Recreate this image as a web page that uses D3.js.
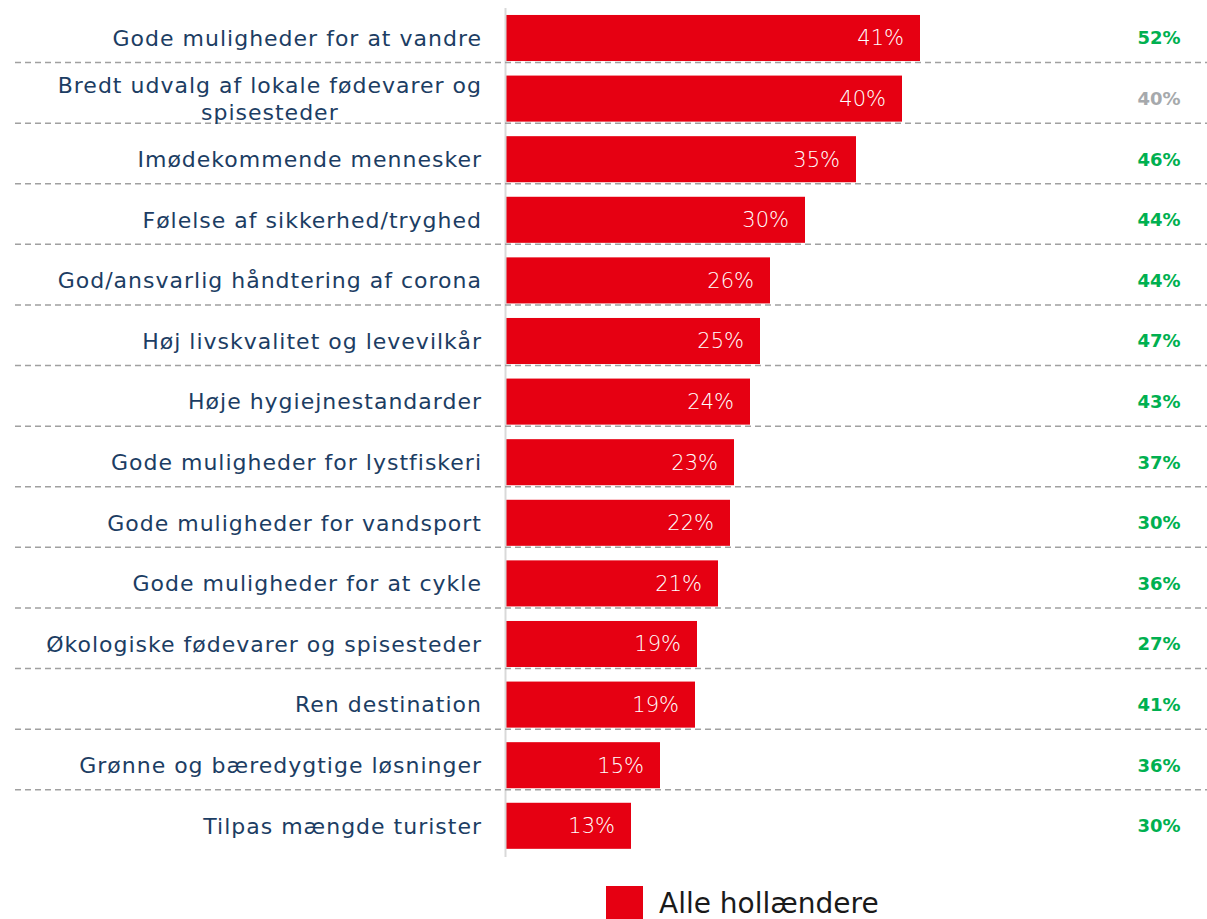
<!DOCTYPE html>
<html>
<head>
<meta charset="utf-8">
<script src="https://cdn.jsdelivr.net/npm/d3@7"></script>
<style>
  html, body { margin: 0; padding: 0; background: #fff; }
  svg { display: block; }
</style>
</head>
<body>
<svg id="chart" width="1207" height="919"></svg>
<script>
const categories = [
  "Gode muligheder for at vandre",
  "Bredt udvalg af lokale fødevarer og|spisesteder",
  "Imødekommende mennesker",
  "Følelse af sikkerhed/tryghed",
  "God/ansvarlig håndtering af corona",
  "Høj livskvalitet og levevilkår",
  "Høje hygiejnestandarder",
  "Gode muligheder for lystfiskeri",
  "Gode muligheder for vandsport",
  "Gode muligheder for at cykle",
  "Økologiske fødevarer og spisesteder",
  "Ren destination",
  "Grønne og bæredygtige løsninger",
  "Tilpas mængde turister"
];
const allValues = [41.4, 39.6, 35.0, 29.9, 26.4, 25.4, 24.4, 22.8, 22.4, 21.2, 19.1, 18.9, 15.4, 12.5];
const barLabels = ["41%", "40%", "35%", "30%", "26%", "25%", "24%", "23%", "22%", "21%", "19%", "19%", "15%", "13%"];
const segmentLabels = ["52%", "40%", "46%", "44%", "44%", "47%", "43%", "37%", "30%", "36%", "27%", "41%", "36%", "30%"];
const segmentSignificant = [true, false, true, true, true, true, true, true, true, true, true, true, true, true];
const legendLabel = "Alle hollændere";

const svg = d3.select("#chart");
const font = "'DejaVu Sans', sans-serif";

const y = d3.scaleBand()
  .domain(categories)
  .range([7.7, 7.7 + 14 * 60.6])
  .paddingInner(0.24)
  .paddingOuter(0.12);

const x = d3.scaleLinear().domain([0, 50]).range([506, 1006]);

// bars
svg.append("g").selectAll("rect")
  .data(categories)
  .join("rect")
  .attr("x", x(0))
  .attr("y", d => y(d))
  .attr("width", (d, i) => x(allValues[i]) - x(0))
  .attr("height", y.bandwidth())
  .attr("fill", "#e60012");

// axis line
svg.append("line")
  .attr("x1", x(0) - 0.5).attr("x2", x(0) - 0.5)
  .attr("y1", 8).attr("y2", 857)
  .attr("stroke", "#d9d9d9").attr("stroke-width", 2);

// dashed separators
svg.append("g").selectAll("line")
  .data(categories.slice(0, -1))
  .join("line")
  .attr("x1", 15).attr("x2", 1207)
  .attr("y1", d => y(d) + y.bandwidth() + 1.5)
  .attr("y2", d => y(d) + y.bandwidth() + 1.5)
  .attr("stroke", "#a0a0a0")
  .attr("stroke-width", 1.5)
  .attr("stroke-dasharray", "6,4");

// category labels
svg.append("g").selectAll("text")
  .data(categories)
  .join("text")
  .attr("font-family", font)
  .attr("font-size", 22)
  .attr("letter-spacing", 1)
  .attr("fill", "#1c3d63")
  .each(function(d) {
    const lines = d.split("|");
    const t = d3.select(this);
    const cy = y(d) + y.bandwidth() / 2;
    if (lines.length === 1) {
      t.attr("text-anchor", "end").attr("x", 482).attr("y", cy).attr("dy", "0.35em").text(lines[0]);
    } else {
      t.attr("text-anchor", "middle");
      const tmp = t.append("tspan").text(lines[0]);
      const w = tmp.node().getComputedTextLength();
      tmp.remove();
      const cx = 482 - w / 2;
      lines.forEach((ln, k) => {
        t.append("tspan")
          .attr("x", cx)
          .attr("y", cy + (k - (lines.length - 1) / 2) * 27)
          .attr("dy", "0.35em")
          .text(ln);
      });
    }
  });

// bar value labels
svg.append("g").selectAll("text")
  .data(categories)
  .join("text")
  .attr("x", (d, i) => x(allValues[i]) - 16)
  .attr("y", d => y(d) + y.bandwidth() / 2)
  .attr("dy", "0.35em")
  .attr("text-anchor", "end")
  .attr("font-family", font)
  .attr("font-size", 21)
  .attr("font-weight", 300)
  .attr("fill", "#ffffff")
  .text((d, i) => barLabels[i]);

// segment column
svg.append("g").selectAll("text")
  .data(categories)
  .join("text")
  .attr("x", 1159)
  .attr("y", d => y(d) + y.bandwidth() / 2)
  .attr("dy", "0.35em")
  .attr("text-anchor", "middle")
  .attr("font-family", font)
  .attr("font-size", 18)
  .attr("font-weight", "bold")
  .attr("fill", (d, i) => segmentSignificant[i] ? "#00b050" : "#a6a9ac")
  .text((d, i) => segmentLabels[i]);

// legend
svg.append("rect")
  .attr("x", 606).attr("y", 886).attr("width", 37).attr("height", 40)
  .attr("fill", "#e60012");
svg.append("text")
  .attr("x", 659).attr("y", 913)
  .attr("font-family", font)
  .attr("font-size", 28)
  .attr("fill", "#1a1a1a")
  .text(legendLabel);
</script>
</body>
</html>
